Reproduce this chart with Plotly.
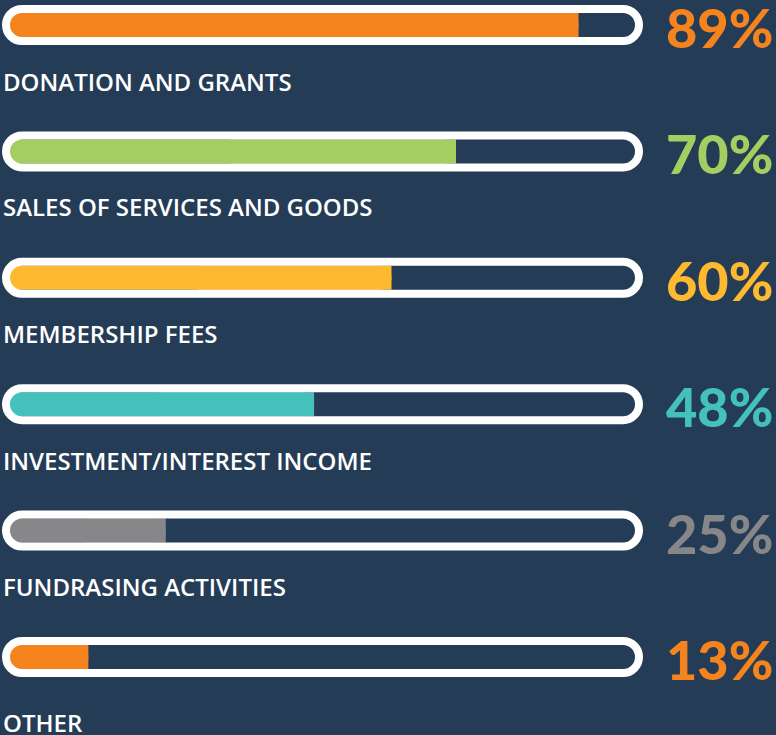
import plotly.graph_objects as go

categories = ["DONATION AND GRANTS", "SALES OF SERVICES AND GOODS", "MEMBERSHIP FEES",
              "INVESTMENT/INTEREST INCOME", "FUNDRASING ACTIVITIES", "OTHER"]
values = [89, 70, 60, 48, 25, 13]
pct_labels = ["89%", "70%", "60%", "48%", "25%", "13%"]
colors = ["#F5841F", "#A4CE5F", "#FDB92F", "#44C1BD", "#87878A", "#F5841F"]

BG = "#253C56"
W, H = 776, 735
X0PX, SCALE = 4.5, 6.45          # pixel of 0%, pixels per 1%
Y0PX, ROWPX = 25, 126.4          # pixel of first row centre, row spacing
TRACK_L, TRACK_R = 6, 639        # stroke centre-line of the capsule, pixels
label_gap = [56, 55, 55, 56, 55, 65]

rows = list(range(len(values)))

fig = go.Figure()

# fill, rounded at both ends
fig.add_trace(go.Bar(
    y=rows, x=values, base=0, orientation="h", width=24 / ROWPX,
    marker=dict(color=colors, line=dict(width=0), cornerradius=12),
    hoverinfo="skip", showlegend=False))

# fill, square right half (keeps the right end square)
fig.add_trace(go.Bar(
    y=rows, x=[v / 2 for v in values], base=[v / 2 for v in values], orientation="h",
    width=24 / ROWPX,
    marker=dict(color=colors, line=dict(width=0)),
    hoverinfo="skip", showlegend=False))

# track (outlined rounded capsule) drawn on top
fig.add_trace(go.Bar(
    y=rows, x=[(TRACK_R - TRACK_L) / SCALE] * len(rows), base=(TRACK_L - X0PX) / SCALE,
    orientation="h", width=32 / ROWPX,
    marker=dict(color="rgba(0,0,0,0)", line=dict(color="white", width=8), cornerradius=16),
    hoverinfo="skip", showlegend=False))

annotations = []
for i, (cat, pl, col) in enumerate(zip(categories, pct_labels, colors)):
    annotations.append(dict(
        x=775 / W, xref="paper", xanchor="right", y=i, yref="y", yanchor="middle",
        yshift=-2, height=44, valign="middle", text=pl, showarrow=False,
        font=dict(family="Lato", size=54, color=col, weight=900)))
    annotations.append(dict(
        x=1 / W, xref="paper", xanchor="left", y=i, yref="y", yanchor="middle",
        yshift=-label_gap[i], height=24, valign="middle", text=cat, showarrow=False,
        font=dict(family="Open Sans", size=24, color="white", weight=600)))

fig.update_layout(
    width=W, height=H, margin=dict(l=0, r=0, t=0, b=0),
    paper_bgcolor=BG, plot_bgcolor=BG, barmode="overlay",
    xaxis=dict(range=[-X0PX / SCALE, (W - X0PX) / SCALE], visible=False, fixedrange=True),
    yaxis=dict(range=[(H - Y0PX) / ROWPX, -Y0PX / ROWPX], visible=False, fixedrange=True),
    annotations=annotations, showlegend=False)

fig.write_html("out.html", config={"displayModeBar": False},
               post_script="document.body.style.margin='0';document.body.style.background='" + BG + "';")
